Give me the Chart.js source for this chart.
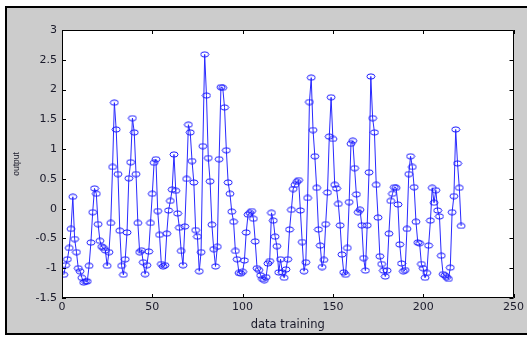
<!DOCTYPE html>
<html>
<head>
<meta charset="utf-8">
<script src="https://cdn.jsdelivr.net/npm/chart.js@4/dist/chart.umd.min.js"></script>
<style>
  html, body { margin: 0; padding: 0; background: #fff; }
  canvas { display: block; }
</style>
</head>
<body>
<canvas id="chart" width="527" height="337"></canvas>
<script>
// output of the model over the training samples
const outputValues = [
  -1.11, -0.95, -0.85, -0.66, -0.34, 0.20, -0.51, -0.73, -1.00, -1.05,
  -1.16, -1.24, -1.22, -1.22, -0.96, -0.57, -0.06, 0.34, 0.25, -0.26,
  -0.54, -0.64, -0.66, -0.70, -0.96, -0.73, -0.24, 0.70, 1.78, 1.33,
  0.58, -0.37, -0.96, -1.11, -0.85, -0.40, 0.51, 0.78, 1.52, 1.28,
  0.58, -0.24, -0.73, -0.70, -0.90, -1.10, -0.95, -0.72, -0.24, 0.25,
  0.77, 0.83, -0.04, -0.44, -0.93, -0.97, -0.95, -0.42, -0.03, 0.13,
  0.32, 0.91, 0.30, -0.08, -0.32, -0.71, -0.95, -0.30, 0.50, 1.41,
  1.28, 0.80, 0.44, -0.36, -0.47, -1.05, -0.73, 1.05, 2.59, 1.90,
  0.85, 0.46, -0.27, -0.68, -0.97, -0.64, 0.83, 2.04, 2.03, 1.70,
  0.98, 0.44, 0.25, -0.05, -0.22, -0.71, -0.85, -1.08, -1.09, -1.06,
  -0.87, -0.40, -0.10, -0.07, -0.04, -0.17, -0.55, -1.00, -1.03, -1.12,
  -1.18, -1.20, -1.15, -0.92, -0.88, -0.07, -0.20, -0.47, -0.63, -1.07,
  -0.85, -1.07, -1.16, -1.02, -0.85, -0.35, -0.02, 0.33, 0.40, 0.45,
  0.48, -0.03, -0.56, -1.05, -0.90, 0.18, 1.79, 2.20, 1.32, 0.88,
  0.35, -0.35, -0.62, -0.98, -0.86, -0.26, 0.27, 1.21, 1.87, 1.17,
  0.40, 0.34, 0.08, -0.28, -0.77, -1.07, -1.11, -0.66, 0.11, 1.09,
  1.14, 0.68, 0.24, -0.06, -0.02, -0.28, -0.83, -1.04, -0.28, 0.61,
  2.22, 1.52, 1.28, 0.40, -0.15, -0.80, -0.93, -1.04, -1.14, -1.04,
  -0.42, 0.13, 0.25, 0.36, 0.35, 0.07, -0.60, -0.92, -1.05, -1.03,
  -0.34, 0.58, 0.88, 0.70, 0.36, -0.22, -0.57, -0.58, -0.93, -1.00,
  -1.16, -1.08, -0.62, -0.20, 0.35, 0.10, 0.31, -0.03, -0.13, -0.79,
  -1.10, -1.12, -1.15, -1.18, -0.99, -0.06, 0.21, 1.33, 0.76, 0.35, -0.29
];
// sample number of each value
const sampleNo = outputValues.map((_, i) => i + 1);

const xTickValues = [0, 50, 100, 150, 200, 250];
const yTickValues = [-1.5, -1, -0.5, 0, 0.5, 1, 1.5, 2, 2.5, 3];
const yTickLabels = ["-1.5", "-1", "-0.5", "0", "0.5", "1", "1.5", "2", "2.5", "3"];

// ellipse marker, like the stretched matlab 'o'
const marker = document.createElement('canvas');
marker.width = 10;
marker.height = 7;
const mctx = marker.getContext('2d');
mctx.strokeStyle = '#1a1aff';
mctx.lineWidth = 1;
mctx.beginPath();
mctx.ellipse(5, 3.5, 4, 2.6, 0, 0, Math.PI * 2);
mctx.stroke();

// grey figure, white axes box, inward ticks on all four sides
const matlabFrame = {
  id: 'matlabFrame',
  beforeDraw(chart) {
    const { ctx, chartArea: a, width, height } = chart;
    ctx.save();
    ctx.fillStyle = '#ffffff';
    ctx.fillRect(0, 0, width, height);
    ctx.fillStyle = '#cccccc';
    ctx.fillRect(5, 6, width - 5, 329);
    ctx.fillStyle = '#000000';
    ctx.fillRect(5, 6, width - 5, 2);
    ctx.fillRect(5, 6, 2, 329);
    ctx.fillRect(5, 333, width - 5, 2);
    ctx.fillStyle = '#ffffff';
    ctx.fillRect(a.left, a.top, a.right - a.left, a.bottom - a.top);
    ctx.restore();
  },
  afterDraw(chart) {
    const { ctx, chartArea: a } = chart;
    const xs = chart.scales.x, ys = chart.scales.y;
    const len = 4;
    ctx.save();
    ctx.strokeStyle = '#000000';
    ctx.lineWidth = 1;
    ctx.beginPath();
    ctx.rect(Math.round(a.left) + 0.5, Math.round(a.top) + 0.5,
             Math.round(a.right - a.left) - 1, Math.round(a.bottom - a.top) - 1);
    xTickValues.forEach(v => {
      const px = Math.round(xs.getPixelForValue(v)) + 0.5;
      ctx.moveTo(px, a.bottom);
      ctx.lineTo(px, a.bottom - len);
      ctx.moveTo(px, a.top);
      ctx.lineTo(px, a.top + len);
    });
    yTickValues.forEach(v => {
      const py = Math.round(ys.getPixelForValue(v)) + 0.5;
      ctx.moveTo(a.left, py);
      ctx.lineTo(a.left + len, py);
      ctx.moveTo(a.right, py);
      ctx.lineTo(a.right - len, py);
    });
    ctx.stroke();
    ctx.restore();
  }
};

const tickFont = { family: '"DejaVu Sans", sans-serif', size: 11 };

new Chart(document.getElementById('chart'), {
  type: 'line',
  data: {
    datasets: [{
      label: 'output',
      data: sampleNo.map((n, i) => ({ x: n, y: outputValues[i] })),
      borderColor: '#2a2aff',
      borderWidth: 1,
      pointStyle: marker,
      pointRadius: 3,
      tension: 0
    }]
  },
  options: {
    responsive: false,
    animation: false,
    devicePixelRatio: 1,
    layout: { padding: { left: 0, top: 30, right: 13, bottom: 0 } },
    plugins: {
      legend: { display: false },
      tooltip: { enabled: false }
    },
    scales: {
      x: {
        type: 'linear',
        min: 0,
        max: 250,
        grid: { display: false, drawTicks: false },
        border: { display: false },
        afterBuildTicks: s => { s.ticks = xTickValues.map(v => ({ value: v })); },
        afterFit: s => { s.height = 39; },
        ticks: { color: '#1a1a2a', font: tickFont, padding: 3, maxRotation: 0 },
        title: {
          display: true,
          text: 'data training',
          color: '#1a1a2a',
          font: { family: '"DejaVu Sans", sans-serif', size: 11.5 },
          padding: { top: 0, bottom: 5 }
        }
      },
      y: {
        min: -1.5,
        max: 3,
        grid: { display: false, drawTicks: false },
        border: { display: false },
        afterBuildTicks: s => { s.ticks = yTickValues.map(v => ({ value: v })); },
        afterFit: s => { s.width = 62; },
        ticks: {
          color: '#1a1a2a',
          font: tickFont,
          padding: 5,
          callback: (v, i) => yTickLabels[i]
        },
        title: {
          display: true,
          text: 'output',
          color: '#1a1a2a',
          font: { family: '"Liberation Sans", Arial, sans-serif', size: 8.5 },
          padding: { top: 12, bottom: 0 }
        }
      }
    }
  },
  plugins: [matlabFrame]
});
</script>
</body>
</html>
